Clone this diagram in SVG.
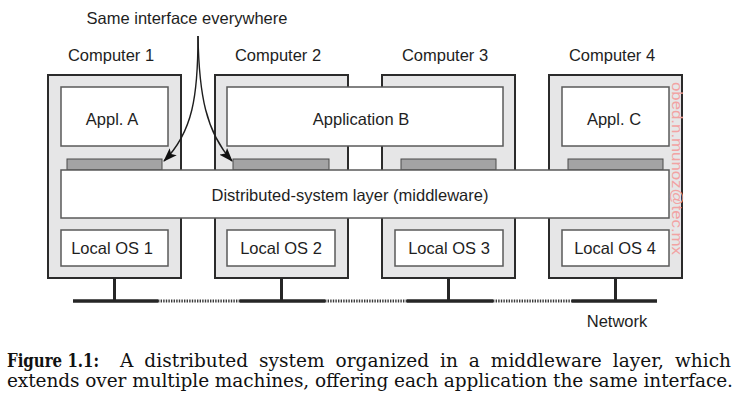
<svg xmlns="http://www.w3.org/2000/svg" width="737" height="403" viewBox="0 0 737 403">
<defs>
<style>
.comp{fill:#e6e6e7;stroke:#2b2b2b;stroke-width:2}
.box{fill:#ffffff;stroke:#5a5a5a;stroke-width:1.5}
.bar{fill:#a3a3a4;stroke:#4a4a4a;stroke-width:1}
.lbl{font-family:"Liberation Sans",Arial,sans-serif;font-size:16.5px;fill:#1e1e1e;text-anchor:middle}
.net{stroke:#262626;stroke-width:3.5;fill:none}
.dot{stroke:#3a3a3a;stroke-width:3;stroke-dasharray:1.4 1.2;fill:none}
.stem{stroke:#262626;stroke-width:3;fill:none}
.arr{stroke:#1e1e1e;stroke-width:1.4;fill:none;marker-end:url(#ah)}
.cap{font-family:"DejaVu Serif","Liberation Serif",serif;font-size:18.5px;fill:#111}
.wm{font-family:"Liberation Sans",Arial,sans-serif;font-size:15px;fill:#f2a3a3}
</style>
<marker id="ah" markerUnits="userSpaceOnUse" markerWidth="14" markerHeight="10" refX="13" refY="5" orient="auto">
<path d="M0,0 L14,5 L0,10 L3,5 z" fill="#111"/>
</marker>
</defs>
<rect width="737" height="403" fill="#ffffff"/>

<text class="lbl" x="187" y="24">Same interface everywhere</text>

<g id="computer1">
<text class="lbl" x="111" y="61">Computer 1</text>
<rect class="comp" x="48" y="75" width="133" height="203"/>
<rect class="box" x="61" y="87" width="107" height="59"/>
<text class="lbl" x="112" y="125">Appl. A</text>
<rect class="bar" x="67" y="159" width="95" height="11"/>
<rect class="box" x="61" y="230" width="107" height="36"/>
<text class="lbl" x="112" y="254">Local OS 1</text>
</g>

<g id="computer2">
<text class="lbl" x="278" y="61">Computer 2</text>
<rect class="comp" x="215" y="75" width="133" height="203"/>
<rect class="bar" x="233" y="159" width="96" height="11"/>
<rect class="box" x="227" y="230" width="108" height="36"/>
<text class="lbl" x="281" y="254">Local OS 2</text>
</g>

<g id="computer3">
<text class="lbl" x="445" y="61">Computer 3</text>
<rect class="comp" x="382" y="75" width="133" height="203"/>
<rect class="bar" x="401" y="159" width="95" height="11"/>
<rect class="box" x="395" y="230" width="108" height="36"/>
<text class="lbl" x="449" y="254">Local OS 3</text>
</g>

<g id="computer4">
<text class="lbl" x="612" y="61">Computer 4</text>
<rect class="comp" x="549" y="75" width="133" height="203"/>
<rect class="box" x="562" y="87" width="107" height="59"/>
<text class="lbl" x="614" y="125">Appl. C</text>
<rect class="bar" x="568" y="159" width="95" height="11"/>
<rect class="box" x="562" y="230" width="107" height="36"/>
<text class="lbl" x="615" y="254">Local OS 4</text>
</g>

<g id="applicationB">
<rect class="box" x="227" y="87" width="276" height="59"/>
<text class="lbl" x="361" y="125">Application B</text>
</g>

<g id="middleware">
<rect class="box" x="61" y="170" width="608" height="48"/>
<text class="lbl" x="350" y="201">Distributed-system layer (middleware)</text>
</g>

<g id="network">
<path class="stem" d="M114.5,278 V301 M281.5,278 V301 M448.5,278 V301 M615.5,278 V301"/>
<path class="net" d="M73,301 H158 M240,301 H325 M407,301 H493 M572,301 H657"/>
<path class="dot" d="M158,301 H240 M325,301 H407 M493,301 H572"/>
<text class="lbl" x="617" y="327">Network</text>
</g>

<g id="connectors">
<path class="arr" d="M198,36 C198,95 193,132 164,161"/>
<path class="arr" d="M198,36 C199,95 206,132 232,161"/>
</g>

<text class="wm" x="672" y="82" transform="rotate(90 672 82)" textLength="173" lengthAdjust="spacingAndGlyphs">obed.n.munoz@tec.mx</text>

<text class="cap" x="7" y="367" font-weight="bold" font-size="17.5" textLength="92" lengthAdjust="spacingAndGlyphs">Figure 1.1:</text>
<text class="cap" x="120" y="367" word-spacing="5" textLength="611" lengthAdjust="spacing">A distributed system organized in a middleware layer, which</text>
<text class="cap" x="7" y="387" textLength="726" lengthAdjust="spacing">extends over multiple machines, offering each application the same interface.</text>
</svg>
